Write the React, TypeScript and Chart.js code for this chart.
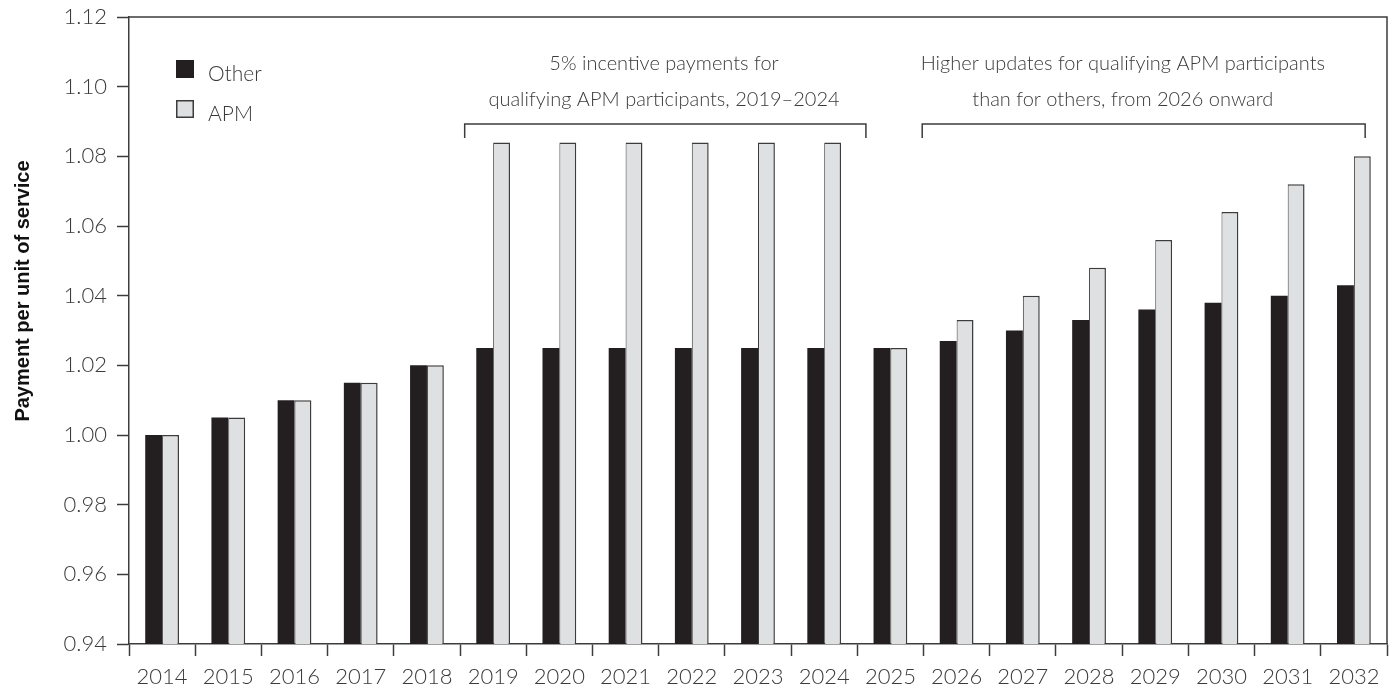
import React, { useEffect, useRef } from 'react';
import { Chart, registerables } from 'chart.js';

Chart.register(...registerables);

const years = ['2014', '2015', '2016', '2017', '2018', '2019', '2020', '2021', '2022', '2023', '2024', '2025', '2026', '2027', '2028', '2029', '2030', '2031', '2032'];
const otherValues = [1.0, 1.005, 1.01, 1.015, 1.02, 1.025, 1.025, 1.025, 1.025, 1.025, 1.025, 1.025, 1.027, 1.03, 1.033, 1.036, 1.038, 1.04, 1.043];
const apmValues = [1.0, 1.005, 1.01, 1.015, 1.02, 1.084, 1.084, 1.084, 1.084, 1.084, 1.084, 1.025, 1.033, 1.04, 1.048, 1.056, 1.064, 1.072, 1.08];
const yTickValues = [0.94, 0.96, 0.98, 1.0, 1.02, 1.04, 1.06, 1.08, 1.1, 1.12];
const seriesNames = ['Other', 'APM'];
const yTitle = 'Payment per unit of service';
const note1Lines = ['5% incentive payments for', 'qualifying APM participants, 2019\u20132024'];
const note2Lines = ['Higher updates for qualifying APM participants', 'than for others, from 2026 onward'];
// bracket spans and text centre in category units (0 = left edge of 2014 slot)
const note1Span = [5.07, 11.13, 8.08];
const note2Span = [11.98, 18.67, 15.01];

const W = 1396;
const H = 692;
const FONT = 'Lato, "Open Sans", "DejaVu Sans", sans-serif';
const TEXT = '#3a3a3a';
const LINE = '#3c3c3c';
const DARK = '#231f20';
const LIGHT = '#dfe0e2';

const overlayPlugin = {
  id: 'overlay',
  afterDraw(chart: any) {
    const { ctx, chartArea } = chart;
    const { left, right, top, bottom } = chartArea;
    const cw = (right - left) / years.length;
    const ux = (u: number) => left + u * cw;
    ctx.save();
    // frame top & right
    ctx.strokeStyle = LINE;
    ctx.lineWidth = 1.5;
    ctx.beginPath();
    ctx.moveTo(left, top);
    ctx.lineTo(right, top);
    ctx.lineTo(right, bottom);
    ctx.stroke();

    // legend
    const ds = chart.data.datasets;
    const legY = [60, 100];
    ds.forEach((d: any, i: number) => {
      ctx.fillStyle = d.backgroundColor;
      ctx.fillRect(176, legY[i], 18, 18);
      ctx.strokeStyle = i === 0 ? DARK : LINE;
      ctx.lineWidth = 1.5;
      ctx.strokeRect(176.75, legY[i] + 0.75, 16.5, 16.5);
      ctx.fillStyle = TEXT;
      ctx.font = '300 21px ' + FONT;
      ctx.textAlign = 'left';
      ctx.textBaseline = 'alphabetic';
      ctx.fillText(seriesNames[i], 208, legY[i] + 21);
    });

    // annotations
    const drawNote = (lines: string[], span: number[]) => {
      const cx = ux(span[2]);
      ctx.fillStyle = TEXT;
      ctx.font = '300 20px ' + FONT;
      ctx.textAlign = 'center';
      ctx.textBaseline = 'alphabetic';
      ctx.fillText(lines[0], cx, 70);
      ctx.fillText(lines[1], cx, 106);
      ctx.strokeStyle = LINE;
      ctx.lineWidth = 1.5;
      ctx.beginPath();
      ctx.moveTo(ux(span[0]), 138);
      ctx.lineTo(ux(span[0]), 124);
      ctx.lineTo(ux(span[1]), 124);
      ctx.lineTo(ux(span[1]), 138);
      ctx.stroke();
    };
    drawNote(note1Lines, note1Span);
    drawNote(note2Lines, note2Span);

    // y title
    ctx.translate(23, 291);
    ctx.rotate(-Math.PI / 2);
    ctx.fillStyle = '#111';
    ctx.font = 'bold 20px "Liberation Sans", Arial, sans-serif';
    ctx.textAlign = 'center';
    ctx.textBaseline = 'middle';
    ctx.fillText(yTitle, 0, 0);
    ctx.restore();
  },
};

export default function App() {
  const ref = useRef<HTMLCanvasElement>(null);
  useEffect(() => {
    if (!ref.current) return;
    const chart = new Chart(ref.current, {
      type: 'bar',
      data: {
        labels: years,
        datasets: [
          {
            label: seriesNames[0],
            data: otherValues,
            backgroundColor: DARK,
            borderColor: DARK,
            borderWidth: 0,
          },
          {
            label: seriesNames[1],
            data: apmValues,
            backgroundColor: LIGHT,
            borderColor: LINE,
            borderWidth: { top: 1.5, right: 1.5, left: 1, bottom: 0 },
          },
        ],
      },
      options: {
        responsive: false,
        animation: false,
        devicePixelRatio: 1,
        layout: { padding: { left: 0, top: 17, right: 9, bottom: 0 } },
        datasets: { bar: { categoryPercentage: 0.51, barPercentage: 1.0 } },
        plugins: {
          legend: { display: false },
          tooltip: { enabled: false },
          title: { display: false },
        },
        scales: {
          x: {
            offset: true,
            grid: {
              offset: true,
              drawOnChartArea: false,
              drawTicks: true,
              tickLength: 12,
              tickWidth: 1.5,
              tickColor: LINE,
            },
            border: { display: true, color: LINE, width: 1.5 },
            ticks: {
              color: TEXT,
              font: { family: FONT, size: 22, weight: '300' },
              padding: 8,
              maxRotation: 0,
              autoSkip: false,
            },
            afterFit: (s: any) => {
              s.height = H - 644;
              s.paddingLeft = 0;
              s.paddingRight = 0;
            },
          },
          y: {
            min: 0.94,
            max: 1.12,
            afterBuildTicks: (s: any) => {
              s.ticks = yTickValues.map((v) => ({ value: v }));
            },
            grid: {
              drawOnChartArea: false,
              drawTicks: true,
              tickLength: 12,
              tickWidth: 1.5,
              tickColor: LINE,
            },
            border: { display: true, color: LINE, width: 1.5 },
            ticks: {
              color: TEXT,
              font: { family: FONT, size: 22, weight: '300' },
              padding: 10,
              callback: (v: any) => Number(v).toFixed(2),
            },
            afterFit: (s: any) => {
              s.width = 129;
              s.paddingTop = 0;
              s.paddingBottom = 0;
            },
          },
        },
      },
      plugins: [overlayPlugin],
    });
    return () => chart.destroy();
  }, []);
  return (
    <div style={{ position: 'fixed', left: 0, top: 0, width: W, height: H, background: '#fff' }}>
      <canvas ref={ref} width={W} height={H} style={{ display: 'block' }} />
    </div>
  );
}
